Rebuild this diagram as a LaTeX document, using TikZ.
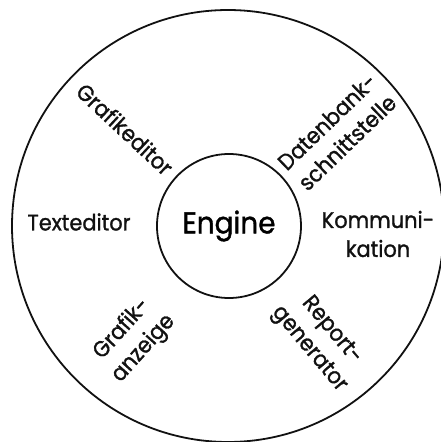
\documentclass[tikz,border=0pt]{standalone}
\usepackage{fontspec}
\setmainfont{Poppins}[FakeStretch=0.93, FakeBold=1.2]
\usepackage{xcolor}
\usetikzlibrary{positioning}
\definecolor{rwInk}{HTML}{111111}
\tikzset{
  ring/.style ={draw=rwInk, circle, line width=1.8pt, inner sep=0pt},
  lbl/.style  ={align=center, inner sep=0pt, text=rwInk, font=\fontsize{22.5}{29}\selectfont},
}

\begin{document}
\begin{tikzpicture}[x=1pt,y=1pt]
\useasboundingbox (-229,-216) rectangle (212,226);
\clip (-229,-216) rectangle (212,226);
% ---- rings ----
\node[ring, minimum size=432pt] (rim)    at (-1,0) {};
\node[ring, minimum size=144pt, font=\fontsize{30}{34}\selectfont] (engine) at (0,0) {Engine};

% ---- modules round the engine ----
\node[lbl] (texted) at (-150,4)              {Texteditor};
\node[lbl] (komm)   at (149,-8)              {Kommuni-\\kation};
\node[lbl, rotate=-43] (grafed) at (-104,97)  {Grafikeditor};
\node[lbl, rotate=44]  (dbif)   at (108,94)   {Datenbank-\\schnittstelle};
\node[lbl, rotate=48]  (grafan) at (-96,-113) {Grafik-\\anzeige};
\node[lbl, rotate=-50] (report) at (91,-114)  {Report-\\generator};
\end{tikzpicture}
\end{document}
